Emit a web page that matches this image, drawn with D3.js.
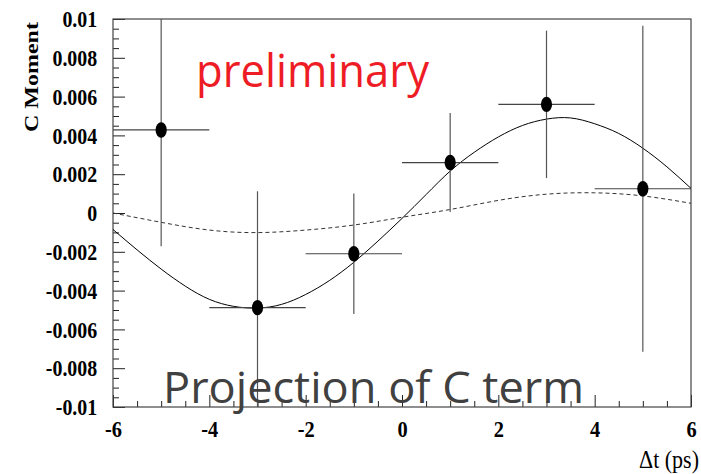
<!DOCTYPE html>
<html>
<head>
<meta charset="utf-8">
<script src="https://cdn.jsdelivr.net/npm/d3@7"></script>
<style>
  html, body { margin: 0; padding: 0; background: #fff; }
  svg { display: block; }
</style>
</head>
<body>
<svg id="chart" width="701" height="474"></svg>
<script>
// Measured C-moment per Δt bin
const binCenters = [-5, -3, -1, 1, 3, 5];
const binHalfWidth = [1, 1, 1, 1, 1, 1];
const cMoment = [0.00428, -0.00488, -0.0021, 0.0026, 0.0056, 0.00125];
const cMomentErr = [0.0060, 0.0060, 0.0031, 0.00255, 0.0038, 0.0084];

// Fitted curve (solid) sampled along Δt
const fitT = [-6, -5.5, -5, -4.5, -4, -3.5, -3, -2.5, -2, -1.5, -1, -0.5, 0,
              0.5, 1, 1.5, 2, 2.5, 3, 3.5, 4, 4.5, 5, 5.5, 6];
const fitC = [-0.00085, -0.00190, -0.00289, -0.00377, -0.00445, -0.00481, -0.00490,
              -0.00471, -0.00420, -0.00347, -0.00254, -0.00145, -0.00028,
              0.00095, 0.00216, 0.00313, 0.00392, 0.00451, 0.00484, 0.00490,
              0.00460, 0.00410, 0.00334, 0.00238, 0.00127];

// Expected curve (dashed)
const expT = [-6, -5, -4, -3, -2, -1, 0, 1, 2, 3, 4, 5, 6];
const expC = [0.0, -0.00048, -0.00088, -0.00101, -0.00088, -0.00062, -0.00022,
              0.00018, 0.00065, 0.00097, 0.00104, 0.00088, 0.00050];

// Axis ticks
const xTickValues = [-6, -4, -2, 0, 2, 4, 6];
const xTickLabels = ["-6", "-4", "-2", "0", "2", "4", "6"];
const yTickValues = [-0.01, -0.008, -0.006, -0.004, -0.002, 0, 0.002, 0.004, 0.006, 0.008, 0.01];
const yTickLabels = ["-0.01", "-0.008", "-0.006", "-0.004", "-0.002", "0",
                     "0.002", "0.004", "0.006", "0.008", "0.01"];

const svg = d3.select("#chart");
const W = 701, H = 474;
const plot = { left: 113, right: 691, top: 19, bottom: 407 };

svg.append("rect").attr("width", W).attr("height", H).attr("fill", "#fff");

const x = d3.scaleLinear().domain([-6, 6]).range([plot.left, plot.right]);
const y = d3.scaleLinear().domain([-0.01, 0.01]).range([plot.bottom, plot.top]);

svg.append("defs").append("clipPath").attr("id", "plotClip")
  .append("rect")
  .attr("x", plot.left).attr("y", plot.top)
  .attr("width", plot.right - plot.left).attr("height", plot.bottom - plot.top);

const tickFont = "'Liberation Serif', 'Times New Roman', serif";
const inkColor = "#222";

// Minor ticks
const xMinor = d3.range(-6, 6.001, 0.5).filter(v => Math.abs(v / 2 - Math.round(v / 2)) > 1e-9);
const yMinor = d3.range(-0.01, 0.01001, 0.0005).filter(v => Math.abs(v / 0.002 - Math.round(v / 0.002)) > 1e-6);

svg.append("g")
  .attr("transform", `translate(0,${plot.bottom})`)
  .call(d3.axisBottom(x).tickValues(xMinor).tickSizeInner(-6).tickSizeOuter(0).tickFormat(""))
  .call(g => g.select(".domain").remove())
  .call(g => g.selectAll("line").attr("stroke", inkColor));

svg.append("g")
  .attr("transform", `translate(${plot.left},0)`)
  .call(d3.axisLeft(y).tickValues(yMinor).tickSizeInner(-6).tickSizeOuter(0).tickFormat(""))
  .call(g => g.select(".domain").remove())
  .call(g => g.selectAll("line").attr("stroke", inkColor));

// Major ticks with labels
svg.append("g")
  .attr("transform", `translate(0,${plot.bottom})`)
  .call(d3.axisBottom(x).tickValues(xTickValues).tickSizeInner(-12).tickSizeOuter(0)
        .tickPadding(13).tickFormat((d, i) => xTickLabels[i]))
  .call(g => g.select(".domain").remove())
  .call(g => g.selectAll("line").attr("stroke", inkColor))
  .call(g => g.selectAll("text")
    .attr("font-family", tickFont).attr("font-weight", "bold")
    .attr("font-size", 24).attr("fill", "#000")
    .attr("transform", "scale(0.85,1)"));

svg.append("g")
  .attr("transform", `translate(${plot.left},0)`)
  .call(d3.axisLeft(y).tickValues(yTickValues).tickSizeInner(-12).tickSizeOuter(0)
        .tickPadding(19).tickFormat((d, i) => yTickLabels[i]))
  .call(g => g.select(".domain").remove())
  .call(g => g.selectAll("line").attr("stroke", inkColor))
  .call(g => g.selectAll("text")
    .attr("font-family", tickFont).attr("font-weight", "bold")
    .attr("font-size", 24).attr("fill", "#000")
    .attr("transform", "scale(0.83,1)"));

// Frame
svg.append("rect")
  .attr("x", plot.left).attr("y", plot.top)
  .attr("width", plot.right - plot.left).attr("height", plot.bottom - plot.top)
  .attr("fill", "none").attr("stroke", "#444").attr("stroke-width", 1.2);

const body = svg.append("g").attr("clip-path", "url(#plotClip)");

// Dashed expected curve
const expLine = d3.line().x(d => x(d[0])).y(d => y(d[1])).curve(d3.curveNatural);
body.append("path")
  .datum(expT.map((t, i) => [t, expC[i]]))
  .attr("d", expLine)
  .attr("fill", "none").attr("stroke", "#333").attr("stroke-width", 1)
  .attr("stroke-dasharray", "4,3");

// Solid fitted curve
const fitLine = d3.line().x(d => x(d[0])).y(d => y(d[1])).curve(d3.curveNatural);
body.append("path")
  .datum(fitT.map((t, i) => [t, fitC[i]]))
  .attr("d", fitLine)
  .attr("fill", "none").attr("stroke", "#000").attr("stroke-width", 1);

// Error bars
const pts = binCenters.map((t, i) => ({ t, v: cMoment[i], ex: binHalfWidth[i], ey: cMomentErr[i] }));
body.selectAll("line.ex").data(pts).join("line")
  .attr("class", "ex")
  .attr("x1", d => x(d.t - d.ex)).attr("x2", d => x(d.t + d.ex))
  .attr("y1", d => y(d.v)).attr("y2", d => y(d.v))
  .attr("stroke", "#444").attr("stroke-width", 1.2);
body.selectAll("line.ey").data(pts).join("line")
  .attr("class", "ey")
  .attr("x1", d => x(d.t)).attr("x2", d => x(d.t))
  .attr("y1", d => y(d.v - d.ey)).attr("y2", d => y(d.v + d.ey))
  .attr("stroke", "#555").attr("stroke-width", 1.2);

// Markers
svg.selectAll("ellipse.pt").data(pts).join("ellipse")
  .attr("class", "pt")
  .attr("cx", d => x(d.t)).attr("cy", d => y(d.v))
  .attr("rx", 5.6).attr("ry", 7.7).attr("fill", "#000");

// Axis titles
svg.append("text")
  .attr("transform", "translate(38,77) rotate(-90) scale(1,0.8)")
  .attr("text-anchor", "middle")
  .attr("font-family", tickFont).attr("font-weight", "bold").attr("font-size", 24)
  .attr("fill", "#000")
  .text("C Moment");

svg.append("text")
  .attr("transform", "translate(699,468) scale(0.88,1)")
  .attr("text-anchor", "end")
  .attr("font-family", tickFont).attr("font-size", 25).attr("fill", "#000")
  .text("Δt (ps)");

// Annotations
svg.append("text")
  .attr("x", 196).attr("y", 87)
  .attr("font-family", "'Open Sans', 'Noto Sans', sans-serif").attr("font-size", 45)
  .attr("fill", "#ee1d25")
  .attr("textLength", 233).attr("lengthAdjust", "spacingAndGlyphs")
  .text("preliminary");

svg.append("text")
  .attr("x", 163).attr("y", 403)
  .attr("font-family", "'Open Sans', 'Noto Sans', sans-serif").attr("font-size", 43)
  .attr("fill", "#404040")
  .attr("textLength", 421).attr("lengthAdjust", "spacingAndGlyphs")
  .text("Projection of C term");
</script>
</body>
</html>
